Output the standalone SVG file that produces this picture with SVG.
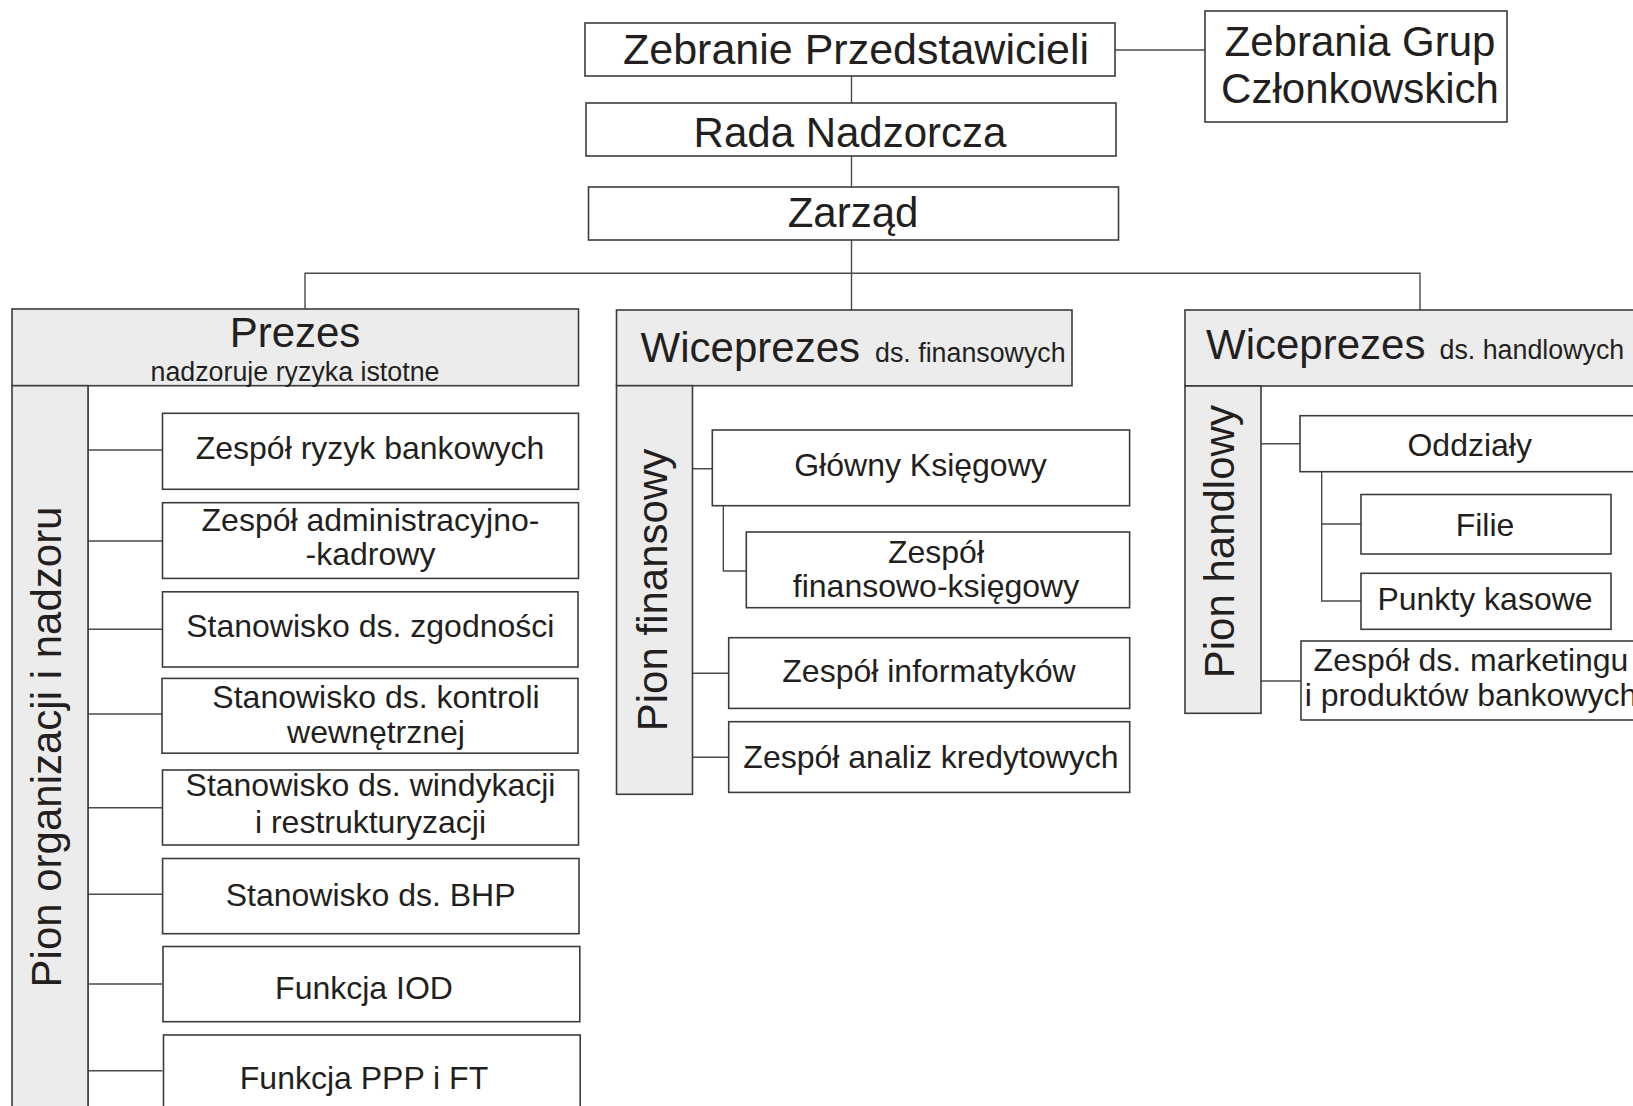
<svg xmlns="http://www.w3.org/2000/svg" width="1633" height="1106" viewBox="0 0 1633 1106">
<style>
text{font-family:"Liberation Sans",Arial,Helvetica,sans-serif;fill:#231f20;text-anchor:middle}
.b{fill:#ffffff;stroke:#3c3c3c;stroke-width:1.6}
.g{fill:#ececec;stroke:#3c3c3c;stroke-width:1.6}
.c{fill:none;stroke:#4a4a4a;stroke-width:1.4}
.s42{font-size:42px}
.s32{font-size:32px}
.s27{font-size:26.8px}
.l{text-anchor:start}
</style>
<rect width="1633" height="1106" fill="#ffffff"/>
<g id="connectors">
<path class="c" d="M1115 50H1205"/>
<path class="c" d="M851.5 76V103M851.5 156V187M851.5 240V310"/>
<path class="c" d="M305 309V273.3H1420V310"/>
<path class="c" d="M88 385.7V1106"/>
<path class="c" d="M88 450H162.5M88 541H162.5M88 629.3H162.5M88 714H162.5M88 807.7H162.5M88 894.3H162.5M88 984H162.5M88 1070.7H162.5"/>
<path class="c" d="M692.5 468.7H712.3M723.3 505.7V571H746.3M692.5 673.3H728.7M692.5 757.3H728.7"/>
<path class="c" d="M1261 443.7H1300M1321.7 471.7V601H1361M1321.7 524H1361M1261 681H1301"/>
</g>
<g id="zebranie-przedstawicieli">
<rect class="b" x="585" y="23" width="530" height="53"/>
<text x="856" y="64" style="font-size:43px">Zebranie Przedstawicieli</text>
</g>
<g id="zebrania-grup">
<rect class="b" x="1205" y="11" width="302" height="111"/>
<text class="s42" x="1360" y="56">Zebrania Grup</text>
<text class="s42" x="1360" y="103">Członkowskich</text>
</g>
<g id="rada-nadzorcza">
<rect class="b" x="586" y="103" width="530" height="53"/>
<text class="s42" x="850" y="147">Rada Nadzorcza</text>
</g>
<g id="zarzad">
<rect class="b" x="588.5" y="187" width="530" height="53"/>
<text class="s42" x="853" y="227">Zarząd</text>
</g>
<g id="prezes">
<rect class="g" x="12" y="309" width="566.5" height="76.7"/>
<text class="s42" x="295" y="347">Prezes</text>
<text class="s27" x="295" y="380.5">nadzoruje ryzyka istotne</text>
</g>
<g id="pion-organizacji">
<rect class="g" x="12" y="385.7" width="76" height="740"/>
<text class="s42" transform="translate(61,747) rotate(-90)">Pion organizacji i nadzoru</text>
</g>
<g id="zespol-ryzyk">
<rect class="b" x="162.5" y="413.3" width="416" height="76"/>
<text class="s32" x="370" y="459.3">Zespół ryzyk bankowych</text>
</g>
<g id="zespol-adm">
<rect class="b" x="162.5" y="502.7" width="416" height="75.7"/>
<text class="s32" x="370.5" y="531">Zespół administracyjno-</text>
<text class="s32" x="370.5" y="565">-kadrowy</text>
</g>
<g id="stanowisko-zgodnosci">
<rect class="b" x="162.5" y="591.8" width="415.5" height="75.2"/>
<text class="s32" x="370.3" y="637">Stanowisko ds. zgodności</text>
</g>
<g id="stanowisko-kontroli">
<rect class="b" x="162" y="678.4" width="416" height="74.8"/>
<text class="s32" x="376" y="707.8">Stanowisko ds. kontroli</text>
<text class="s32" x="376" y="743.3">wewnętrznej</text>
</g>
<g id="stanowisko-windykacji">
<rect class="b" x="162.5" y="770" width="416" height="75"/>
<text class="s32" x="370.5" y="795.7">Stanowisko ds. windykacji</text>
<text class="s32" x="370.5" y="832.6">i restrukturyzacji</text>
</g>
<g id="stanowisko-bhp">
<rect class="b" x="162.6" y="858.5" width="416.4" height="75.2"/>
<text class="s32" x="370.6" y="906.4">Stanowisko ds. BHP</text>
</g>
<g id="funkcja-iod">
<rect class="b" x="163" y="946.5" width="416.8" height="75.2"/>
<text class="s32" x="364" y="999.3">Funkcja IOD</text>
</g>
<g id="funkcja-ppp">
<rect class="b" x="163.5" y="1035" width="416.7" height="90"/>
<text class="s32" x="364" y="1089">Funkcja PPP i FT</text>
</g>
<g id="wiceprezes-fin">
<rect class="g" x="616.5" y="310" width="455.5" height="75.7"/>
<text class="s42 l" x="640.6" y="361.7">Wiceprezes</text>
<text class="s27 l" x="875" y="361.7">ds. finansowych</text>
</g>
<g id="pion-finansowy">
<rect class="g" x="616.5" y="385.7" width="76" height="408.6"/>
<text class="s42" transform="translate(667,590) rotate(-90)">Pion finansowy</text>
</g>
<g id="glowny-ksiegowy">
<rect class="b" x="712.3" y="430" width="417.3" height="75.7"/>
<text class="s32" x="920.5" y="476">Główny Księgowy</text>
</g>
<g id="zespol-fk">
<rect class="b" x="746.3" y="532" width="383.3" height="75.7"/>
<text class="s32" x="936" y="562.5">Zespół</text>
<text class="s32" x="936" y="596.5">finansowo-księgowy</text>
</g>
<g id="zespol-informatykow">
<rect class="b" x="728.7" y="637.7" width="401" height="70.7"/>
<text class="s32" x="929" y="681.7">Zespół informatyków</text>
</g>
<g id="zespol-analiz">
<rect class="b" x="728.7" y="721.7" width="401" height="70.7"/>
<text class="s32" x="931" y="768.3">Zespół analiz kredytowych</text>
</g>
<g id="wiceprezes-handl">
<rect class="g" x="1185" y="310" width="460" height="76"/>
<text class="s42 l" x="1206" y="358.5">Wiceprezes</text>
<text class="s27 l" x="1439.5" y="358.5">ds. handlowych</text>
</g>
<g id="pion-handlowy">
<rect class="g" x="1185" y="386" width="76" height="327.3"/>
<text class="s42" transform="translate(1233.5,541.7) rotate(-90)">Pion handlowy</text>
</g>
<g id="oddzialy">
<rect class="b" x="1300" y="415.7" width="345" height="56"/>
<text class="s32" x="1469.7" y="456">Oddziały</text>
</g>
<g id="filie">
<rect class="b" x="1361" y="494.5" width="250" height="59.5"/>
<text class="s32" x="1485" y="536">Filie</text>
</g>
<g id="punkty-kasowe">
<rect class="b" x="1361" y="573.3" width="250" height="56"/>
<text class="s32" x="1485" y="610">Punkty kasowe</text>
</g>
<g id="zespol-marketingu">
<rect class="b" x="1301" y="641" width="345" height="79"/>
<text class="s32" x="1471" y="671">Zespół ds. marketingu</text>
<text class="s32" x="1471" y="706">i produktów bankowych</text>
</g>
</svg>
